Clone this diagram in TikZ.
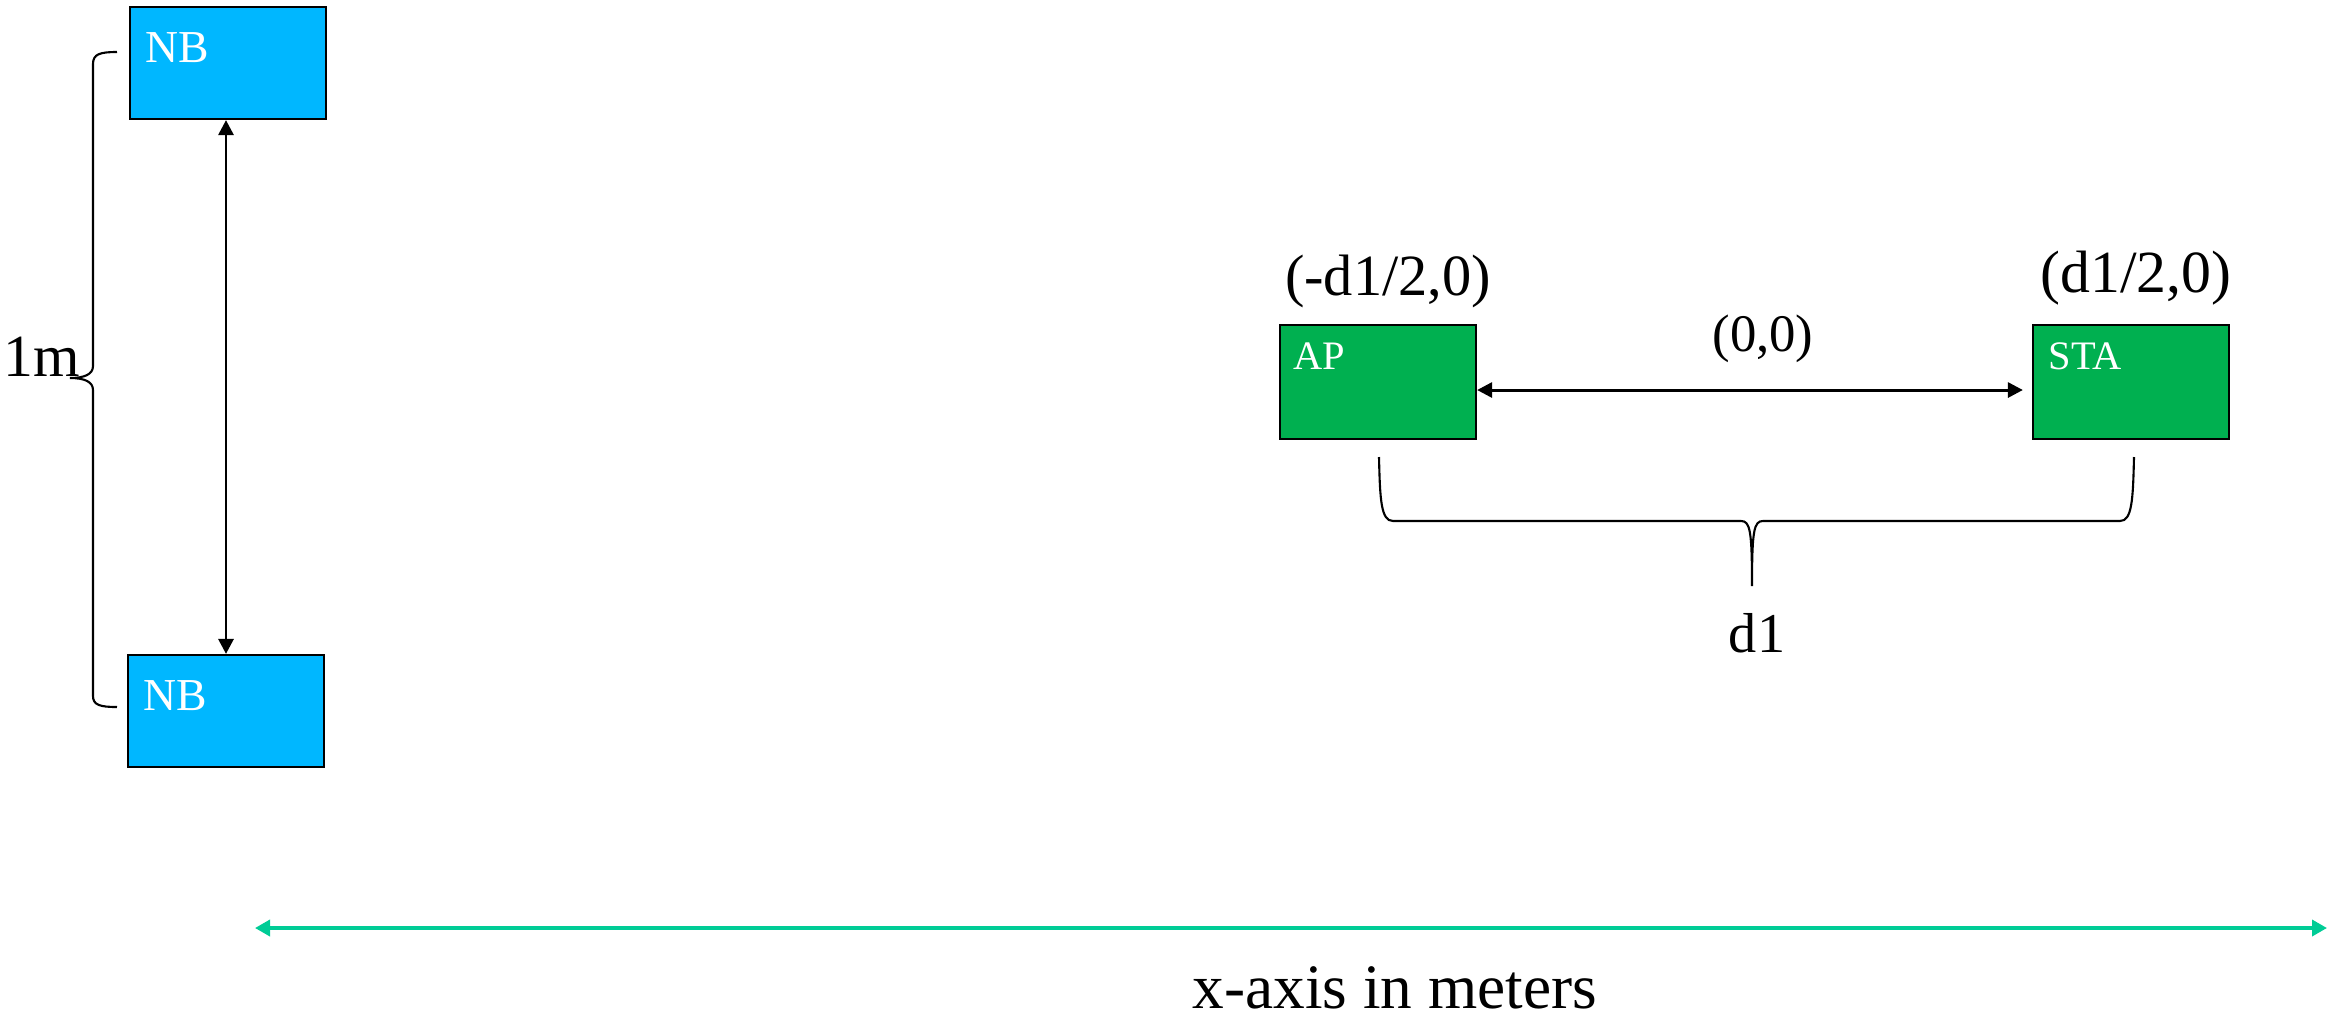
\documentclass[tikz,border=0pt]{standalone}
\usepackage{fontspec}
\setmainfont{Liberation Serif}
\usetikzlibrary{arrows.meta}

\definecolor{nbblue}{RGB}{0,183,255}
\definecolor{wlangreen}{RGB}{0,176,80}
\definecolor{axisgreen}{RGB}{0,204,150}

\tikzset{
  nbbox/.style={draw=black, line width=0.6pt, fill=nbblue, minimum width=1.95cm, minimum height=1.12cm, inner sep=0pt},
  wlanbox/.style={draw=black, line width=0.6pt, fill=wlangreen, minimum width=1.96cm, minimum height=1.14cm, inner sep=0pt},
  inlabel/.style={text=white, anchor=base west, inner sep=0pt},
  coordlabel/.style={anchor=base, inner sep=0pt},
  link/.style={line width=0.85pt, {Triangle[length=0.15cm,width=0.15cm]}-{Triangle[length=0.15cm,width=0.15cm]}},
  xaxisline/.style={draw=axisgreen, line width=1pt, {Triangle[length=0.15cm,width=0.16cm]}-{Triangle[length=0.15cm,width=0.16cm]}},
  brace/.style={line width=0.6pt},
}

\begin{document}
\begin{tikzpicture}[x=0.01cm, y=-0.01cm]
  \useasboundingbox (0,0) rectangle (2329,1017);

  % boxes
  \node[nbbox] (nbtop) at (228,63) {};
  \node[nbbox] (nbbot) at (226,711) {};
  \node[wlanbox] (ap) at (1378,382) {};
  \node[wlanbox] (sta) at (2131,382) {};

  \node[inlabel, font=\fontsize{13pt}{15pt}\selectfont] (nbtoptext) at ([shift={(15,57)}]nbtop.north west) {NB};
  \node[inlabel, font=\fontsize{13pt}{15pt}\selectfont] (nbbottext) at ([shift={(15,57)}]nbbot.north west) {NB};
  \node[inlabel, font=\fontsize{11.5pt}{14pt}\selectfont] (aptext) at ([shift={(14,46)}]ap.north west) {AP};
  \node[inlabel, font=\fontsize{11.5pt}{14pt}\selectfont] (statext) at ([shift={(16,46)}]sta.north west) {STA};

  % links
  \draw[link] (nbtop.south -| nbbot.north) -- (nbbot.north);
  \draw[link] ([yshift=-0.08cm]ap.east) -- ([yshift=-0.08cm,xshift=-0.09cm]sta.west);

  % coordinates
  \node[coordlabel, font=\fontsize{16.6pt}{20pt}\selectfont] (apcoord) at (1388,295) {(-d1/2,0)};
  \node[coordlabel, font=\fontsize{17pt}{20pt}\selectfont] (stacoord) at (2136,292) {(d1/2,0)};
  \node[coordlabel, font=\fontsize{15pt}{18pt}\selectfont] (origin) at (1763,351) {(0,0)};

  % braces
  \draw[brace] (117,52) .. controls (100,52) and (93,54) .. (93,64) -- (93,366)
    .. controls (93,374) and (85,378) .. (70,378)
    .. controls (85,378) and (93,382) .. (93,390) -- (93,696)
    .. controls (93,705) and (100,707) .. (117,707);
  \node[coordlabel, font=\fontsize{17pt}{20pt}\selectfont] (onem) at (42,376) {1m};

  \draw[brace] (1379,457) .. controls (1380,500) and (1381,521) .. (1393,521) -- (1741,521)
    .. controls (1750,521) and (1752,530) .. (1752,586)
    .. controls (1752,530) and (1754,521) .. (1763,521) -- (2120,521)
    .. controls (2132,521) and (2133,500) .. (2134,457);
  \node[coordlabel, font=\fontsize{16pt}{19pt}\selectfont] (dist) at (1757,652) {d1};

  % x axis
  \coordinate (axl) at (255,928);
  \coordinate (axr) at (2327,928);
  \draw[xaxisline] (axl) -- (axr);
  \node[coordlabel, font=\fontsize{18pt}{21pt}\selectfont] (axislabel) at (1395,1008) {x-axis in meters};
\end{tikzpicture}
\end{document}
